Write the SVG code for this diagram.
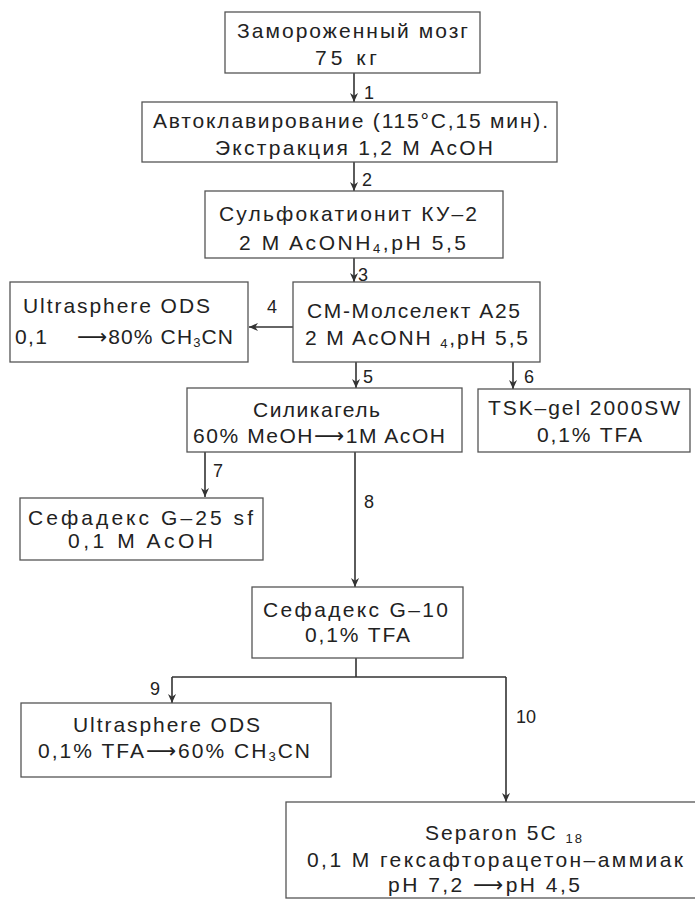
<svg xmlns="http://www.w3.org/2000/svg" width="695" height="906" viewBox="0 0 695 906">
<style>
.box{fill:#fff;stroke:#555;stroke-width:1.3}
.t{font-family:"Liberation Sans","DejaVu Sans",sans-serif;font-size:21px;fill:#222}
.lbl{font-family:"Liberation Sans","DejaVu Sans",sans-serif;font-size:18px;fill:#222}
.sub{font-size:13px}
.ar{font-family:"DejaVu Sans",sans-serif}
.c{fill:none;stroke:#333;stroke-width:1.6}
</style>
<defs>
<marker id="ah" viewBox="0 0 10 10" refX="10" refY="5" markerWidth="9" markerHeight="9" markerUnits="userSpaceOnUse" orient="auto">
<path d="M0,0.5 L10,5 L0,9.5 L3,5 Z" fill="#333"/>
</marker>
</defs>
<rect width="695" height="906" fill="#fff"/>
<g id="connectors">
<line class="c" x1="354" y1="73" x2="354" y2="102" marker-end="url(#ah)"/>
<line class="c" x1="354" y1="162" x2="354" y2="191" marker-end="url(#ah)"/>
<line class="c" x1="354" y1="258" x2="354" y2="282" marker-end="url(#ah)"/>
<line class="c" x1="293" y1="327" x2="249" y2="327" marker-end="url(#ah)"/>
<line class="c" x1="356" y1="362" x2="356" y2="388" marker-end="url(#ah)"/>
<line class="c" x1="513" y1="362" x2="513" y2="389" marker-end="url(#ah)"/>
<line class="c" x1="205" y1="452" x2="205" y2="497" marker-end="url(#ah)"/>
<line class="c" x1="355" y1="452" x2="355" y2="587" marker-end="url(#ah)"/>
<path class="c" d="M356,658 V677 M172,677 H506"/>
<line class="c" x1="172" y1="677" x2="172" y2="703" marker-end="url(#ah)"/>
<line class="c" x1="506" y1="677" x2="506" y2="802" marker-end="url(#ah)"/>
<text class="lbl" x="364" y="99">1</text>
<text class="lbl" x="362" y="186">2</text>
<text class="lbl" x="358" y="281">3</text>
<text class="lbl" x="267" y="313">4</text>
<text class="lbl" x="363" y="383">5</text>
<text class="lbl" x="524" y="383">6</text>
<text class="lbl" x="213" y="477">7</text>
<text class="lbl" x="364" y="508">8</text>
<text class="lbl" x="150" y="695">9</text>
<text class="lbl" x="516" y="723">10</text>
</g>
<g id="n1">
<rect class="box" x="225" y="12" width="255" height="61"/>
<text class="t" x="237" y="38" textLength="231" lengthAdjust="spacing">Замороженный мозг</text>
<text class="t" x="315" y="65" textLength="62" lengthAdjust="spacing">75 кг</text>
</g>
<g id="n2">
<rect class="box" x="142" y="102" width="415" height="60"/>
<text class="t" x="153" y="128" textLength="395" lengthAdjust="spacing">Автоклавирование (115°С,15 мин).</text>
<text class="t" x="215" y="155" textLength="278" lengthAdjust="spacing">Экстракция 1,2 М AcOH</text>
</g>
<g id="n3">
<rect class="box" x="205" y="191" width="298" height="67"/>
<text class="t" x="219" y="221" textLength="258" lengthAdjust="spacing">Сульфокатионит КУ–2</text>
<text class="t" x="239" y="250" textLength="227" lengthAdjust="spacing">2 M AcONH<tspan class="sub" dy="3">4</tspan><tspan dy="-3">,pH 5,5</tspan></text>
</g>
<g id="n4">
<rect class="box" x="293" y="282" width="247" height="80"/>
<text class="t" x="307" y="318" textLength="213" lengthAdjust="spacing">CM-Молселект A25</text>
<text class="t" x="305" y="345" textLength="223" lengthAdjust="spacing">2 M AcONH <tspan class="sub" dy="3">4</tspan><tspan dy="-3">,pH 5,5</tspan></text>
</g>
<g id="n5">
<rect class="box" x="10" y="282" width="238" height="80"/>
<text class="t" x="23" y="313" textLength="187" lengthAdjust="spacing">Ultrasphere ODS</text>
<text class="t" x="15" y="344" textLength="32" lengthAdjust="spacing">0,1</text>
<text class="t" x="77" y="344" textLength="156" lengthAdjust="spacing"><tspan class="ar">⟶</tspan>80% CH<tspan class="sub" dy="3">3</tspan><tspan dy="-3">CN</tspan></text>
</g>
<g id="n6">
<rect class="box" x="187" y="388" width="275" height="64"/>
<text class="t" x="253" y="417" textLength="127" lengthAdjust="spacing">Силикагель</text>
<text class="t" x="193" y="443" textLength="252" lengthAdjust="spacing">60% MeOH<tspan class="ar">⟶</tspan>1M AcOH</text>
</g>
<g id="n7">
<rect class="box" x="478" y="389" width="212" height="63"/>
<text class="t" x="488" y="415" textLength="192" lengthAdjust="spacing">TSK–gel 2000SW</text>
<text class="t" x="537" y="442" textLength="105" lengthAdjust="spacing">0,1% TFA</text>
</g>
<g id="n8">
<rect class="box" x="20" y="498" width="243" height="62"/>
<text class="t" x="28" y="525" textLength="225" lengthAdjust="spacing">Сефадекс G–25 sf</text>
<text class="t" x="68" y="548" textLength="145" lengthAdjust="spacing">0,1 M AcOH</text>
</g>
<g id="n9">
<rect class="box" x="252" y="587" width="211" height="71"/>
<text class="t" x="263" y="617" textLength="185" lengthAdjust="spacing">Сефадекс G–10</text>
<text class="t" x="305" y="642" textLength="105" lengthAdjust="spacing">0,1% TFA</text>
</g>
<g id="n10">
<rect class="box" x="21" y="703" width="310" height="74"/>
<text class="t" x="73" y="732" textLength="187" lengthAdjust="spacing">Ultrasphere ODS</text>
<text class="t" x="38" y="758" textLength="272" lengthAdjust="spacing">0,1% TFA<tspan class="ar">⟶</tspan>60% CH<tspan class="sub" dy="3">3</tspan><tspan dy="-3">CN</tspan></text>
</g>
<g id="n11">
<rect class="box" x="286" y="802" width="420" height="96"/>
<text class="t" x="425" y="840" textLength="157" lengthAdjust="spacing">Separon 5C <tspan class="sub" dy="3">18</tspan></text>
<text class="t" x="307" y="867" textLength="376" lengthAdjust="spacing">0,1 M гексафторацетон–аммиак</text>
<text class="t" x="388" y="892" textLength="192" lengthAdjust="spacing">pH 7,2 <tspan class="ar">⟶</tspan>pH 4,5</text>
</g>
</svg>
